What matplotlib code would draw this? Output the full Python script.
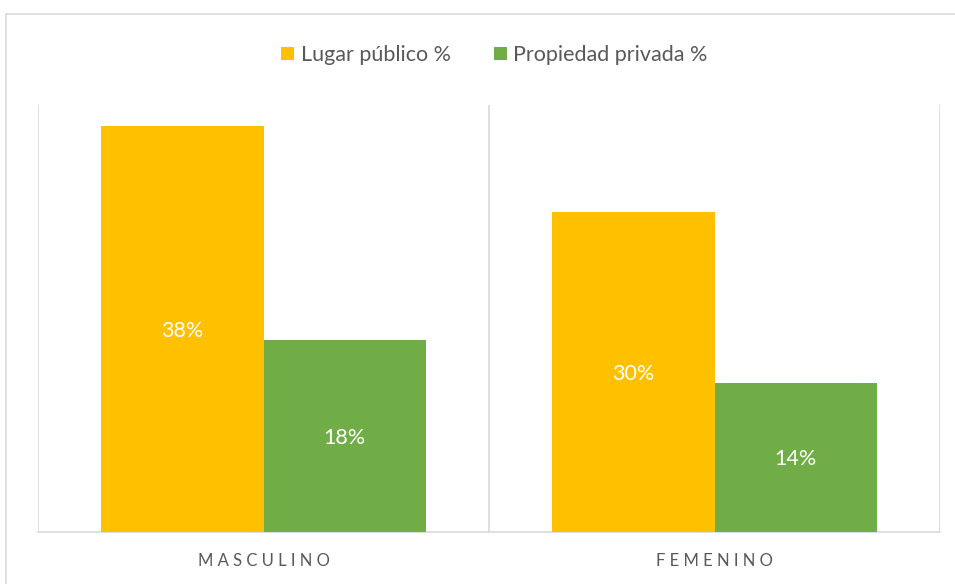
import matplotlib.pyplot as plt
import numpy as np
from matplotlib.patches import Rectangle

categories = ["MASCULINO", "FEMENINO"]
series_names = ["Lugar público %", "Propiedad privada %"]
lugar_publico = [38, 30]
propiedad_privada = [18, 14]
bar_labels = [["38%", "30%"], ["18%", "14%"]]

colors = ["#FFC000", "#70AD47"]
text_gray = "#595959"
line_gray = "#D9D9D9"

plt.rcParams['font.family'] = ['Lato', 'DejaVu Sans']

W, H = 955, 584
fig = plt.figure(figsize=(W / 100, H / 100), dpi=100)
fig.patch.set_facecolor("white")

# chart border box (runs off the right and bottom edge)
fig.patches.append(Rectangle((6 / W, -0.05), 1.1, 1 - 14 / H + 0.05,
                             transform=fig.transFigure, fill=False,
                             edgecolor=line_gray, linewidth=1.2))

ax = fig.add_axes([38 / W, 52 / H, (940 - 38) / W, (532 - 105) / H])
x = np.arange(len(categories))
w = 0.36
series = [lugar_publico, propiedad_privada]
offsets = [-w / 2, w / 2]
handles = []
for vals, off, col, name, labs in zip(series, offsets, colors, series_names, bar_labels):
    bars = ax.bar(x + off, vals, width=w, color=col, label=name, zorder=3)
    handles.append(bars)
    for b, lab in zip(bars, labs):
        ax.text(b.get_x() + b.get_width() / 2, b.get_height() / 2, lab,
                ha="center", va="center_baseline", color="white",
                fontsize=15.5, zorder=4)

ax.set_xlim(-0.5, len(categories) - 0.5)
ax.set_ylim(0, 40)
ax.set_yticks([])
ax.set_xticks([])
for s in ["top", "right", "left"]:
    ax.spines[s].set_visible(False)
ax.spines["bottom"].set_color(line_gray)
ax.spines["bottom"].set_linewidth(1.2)

# category separators
for b in np.arange(-0.5, len(categories), 1.0):
    ax.axvline(b, color=line_gray, linewidth=1.2, zorder=1)

for xi, cat in zip(x, categories):
    ax.text(xi, -0.068, " ".join(cat), transform=ax.get_xaxis_transform(),
            ha="center", va="center", color=text_gray, fontsize=12)

fig.legend(handles=handles, labels=series_names, loc="center",
           bbox_to_anchor=(494.5 / W, 1 - 55 / H), ncol=2, frameon=False,
           fontsize=15.5, labelcolor=text_gray, handlelength=0.6,
           handleheight=0.6, handletextpad=0.3, columnspacing=2.0)

fig.savefig("out.png", dpi=100)
